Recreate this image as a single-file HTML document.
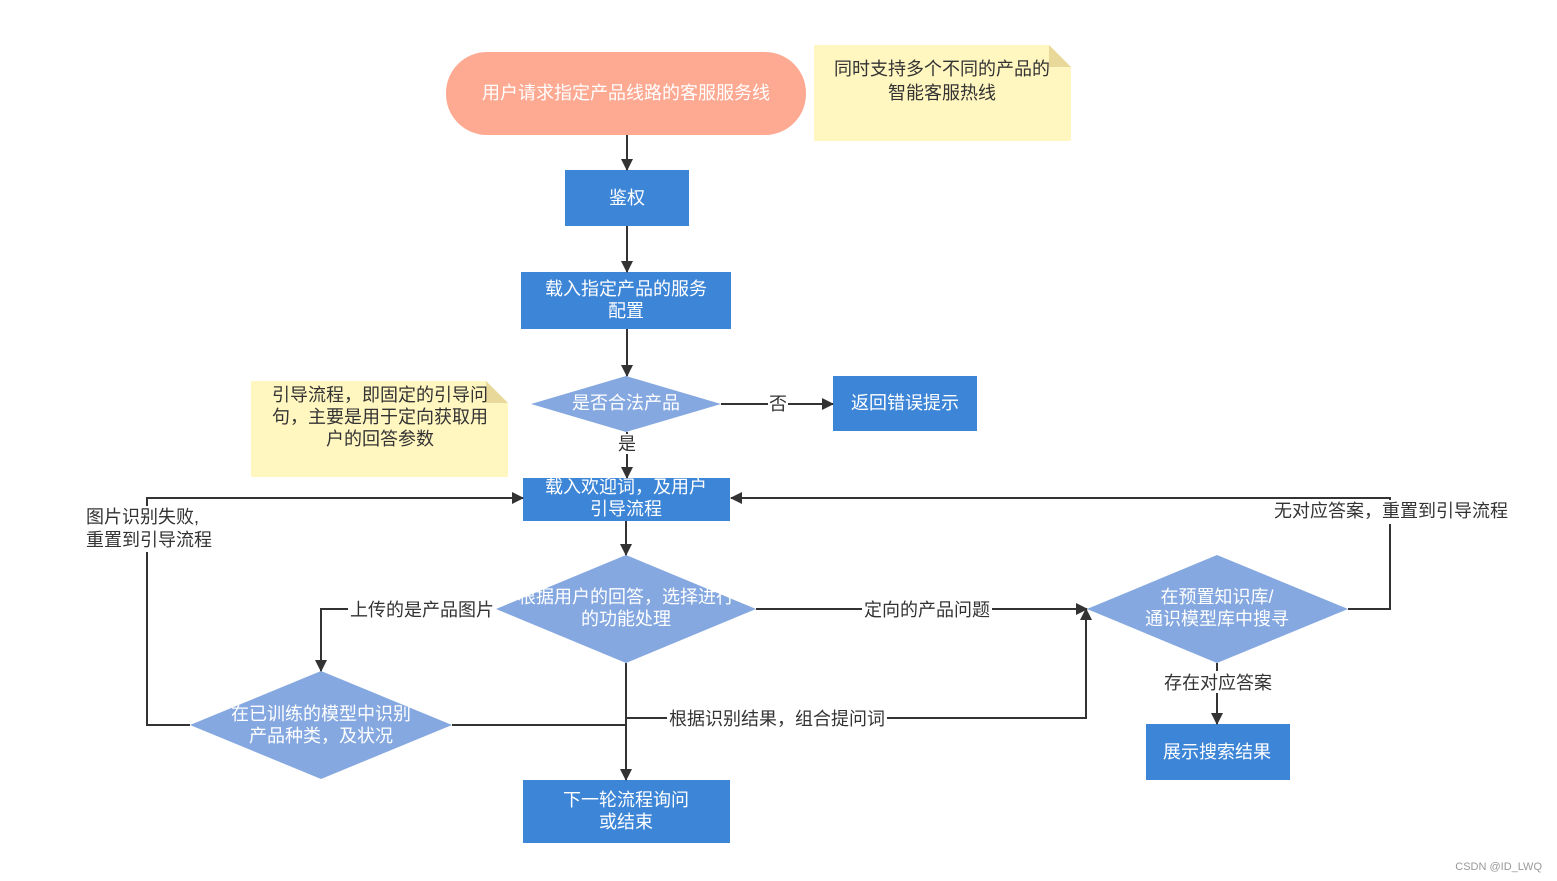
<!DOCTYPE html>
<html><head><meta charset="utf-8"><style>
html,body{margin:0;padding:0;background:#fff;}
svg{display:block;}
text{font-family:"Liberation Sans","Noto Sans CJK SC",sans-serif;font-size:18px;}
.w{fill:#fff;}
.d{fill:#333;}
.ln{stroke:#333;stroke-width:2;fill:none;}
</style></head><body>
<svg width="1557" height="881" viewBox="0 0 1557 881" xmlns="http://www.w3.org/2000/svg">
<defs>
<marker id="a" markerWidth="12" markerHeight="12" refX="11" refY="6" orient="auto" markerUnits="userSpaceOnUse">
<path d="M0,0 L12,6 L0,12 z" fill="#333"/>
</marker>
</defs>
<rect x="446" y="52" width="360" height="83" rx="41" fill="#FEA992"/>
<text x="626" y="99" text-anchor="middle" class="w">用户请求指定产品线路的客服服务线</text>
<path d="M814,45 H1049 L1071,67 V141 H814 Z" fill="#FFF6C0"/>
<path d="M1049,45 L1071,67 H1049 Z" fill="#E8D89A"/>
<text x="942" y="75" text-anchor="middle" class="d">同时支持多个不同的产品的</text>
<text x="942" y="99" text-anchor="middle" class="d">智能客服热线</text>
<path d="M251,381 H486 L508,403 V477 H251 Z" fill="#FFF6C0"/>
<path d="M486,381 L508,403 H486 Z" fill="#E8D89A"/>
<text x="380" y="401" text-anchor="middle" class="d">引导流程，即固定的引导问</text>
<text x="380" y="423" text-anchor="middle" class="d">句，主要是用于定向获取用</text>
<text x="380" y="445" text-anchor="middle" class="d">户的回答参数</text>
<rect x="565" y="170" width="124" height="56" fill="#3D85D6"/>
<text x="627" y="204" text-anchor="middle" class="w">鉴权</text>
<rect x="521" y="272" width="210" height="57" fill="#3D85D6"/>
<text x="626" y="295" text-anchor="middle" class="w">载入指定产品的服务</text>
<text x="626" y="317" text-anchor="middle" class="w">配置</text>
<rect x="833" y="376" width="144" height="55" fill="#3D85D6"/>
<text x="905" y="409" text-anchor="middle" class="w">返回错误提示</text>
<rect x="523" y="478" width="207" height="43" fill="#3D85D6"/>
<text x="626" y="493" text-anchor="middle" class="w">载入欢迎词，及用户</text>
<text x="626" y="515" text-anchor="middle" class="w">引导流程</text>
<rect x="523" y="780" width="207" height="63" fill="#3D85D6"/>
<text x="626" y="806" text-anchor="middle" class="w">下一轮流程询问</text>
<text x="626" y="828" text-anchor="middle" class="w">或结束</text>
<rect x="1146" y="724" width="144" height="56" fill="#3D85D6"/>
<text x="1217" y="758" text-anchor="middle" class="w">展示搜索结果</text>
<polygon points="531,404 626,376 721,404 626,432" fill="#85A8E0"/>
<text x="626" y="409" text-anchor="middle" class="w">是否合法产品</text>
<polygon points="496,609 626,555 756,609 626,663" fill="#85A8E0"/>
<text x="626" y="603" text-anchor="middle" class="w">根据用户的回答，选择进行</text>
<text x="626" y="625" text-anchor="middle" class="w">的功能处理</text>
<polygon points="1087,609 1217,555 1348,609 1217,663" fill="#85A8E0"/>
<text x="1217" y="603" text-anchor="middle" class="w">在预置知识库/</text>
<text x="1217" y="625" text-anchor="middle" class="w">通识模型库中搜寻</text>
<polygon points="190,725 321,671 452,725 321,779" fill="#85A8E0"/>
<text x="321" y="720" text-anchor="middle" class="w">在已训练的模型中识别</text>
<text x="321" y="742" text-anchor="middle" class="w">产品种类，及状况</text>
<line x1="627" y1="135" x2="627" y2="170" class="ln" marker-end="url(#a)"/>
<line x1="627" y1="226" x2="627" y2="272" class="ln" marker-end="url(#a)"/>
<line x1="627" y1="329" x2="627" y2="376" class="ln" marker-end="url(#a)"/>
<line x1="721" y1="404" x2="833" y2="404" class="ln" marker-end="url(#a)"/>
<rect x="768" y="394" width="20" height="20" fill="#fff"/>
<text x="778" y="410" text-anchor="middle" class="d">否</text>
<line x1="627" y1="432" x2="627" y2="478" class="ln" marker-end="url(#a)"/>
<rect x="617" y="434" width="20" height="20" fill="#fff"/>
<text x="627" y="450" text-anchor="middle" class="d">是</text>
<line x1="626" y1="521" x2="626" y2="555" class="ln" marker-end="url(#a)"/>
<polyline points="496,609 321,609 321,671" class="ln" marker-end="url(#a)"/>
<rect x="348" y="598" width="148" height="22" fill="#fff"/>
<text x="422" y="616" text-anchor="middle" class="d">上传的是产品图片</text>
<line x1="756" y1="609" x2="1087" y2="609" class="ln" marker-end="url(#a)"/>
<rect x="862" y="598" width="130" height="22" fill="#fff"/>
<text x="927" y="616" text-anchor="middle" class="d">定向的产品问题</text>
<line x1="626" y1="663" x2="626" y2="780" class="ln" marker-end="url(#a)"/>
<polyline points="452,725 626,725 626,718 1086,718 1086,609" class="ln" marker-end="url(#a)"/>
<rect x="667" y="707" width="220" height="22" fill="#fff"/>
<text x="777" y="725" text-anchor="middle" class="d">根据识别结果，组合提问词</text>
<polyline points="190,725 147,725 147,498 523,498" class="ln" marker-end="url(#a)"/>
<rect x="84" y="506" width="132" height="46" fill="#fff"/>
<text x="86" y="523" class="d">图片识别失败,</text>
<text x="86" y="546" class="d">重置到引导流程</text>
<polyline points="1348,609 1390,609 1390,498 731,498" class="ln" marker-end="url(#a)"/>
<rect x="1270" y="500" width="244" height="24" fill="#fff"/>
<text x="1391" y="517" text-anchor="middle" class="d">无对应答案，重置到引导流程</text>
<line x1="1217" y1="663" x2="1217" y2="724" class="ln" marker-end="url(#a)"/>
<rect x="1160" y="671" width="116" height="22" fill="#fff"/>
<text x="1218" y="689" text-anchor="middle" class="d">存在对应答案</text>
<text x="1542" y="870" text-anchor="end" style="font-size:11px;fill:#999;">CSDN @ID_LWQ</text>
</svg>
</body></html>
